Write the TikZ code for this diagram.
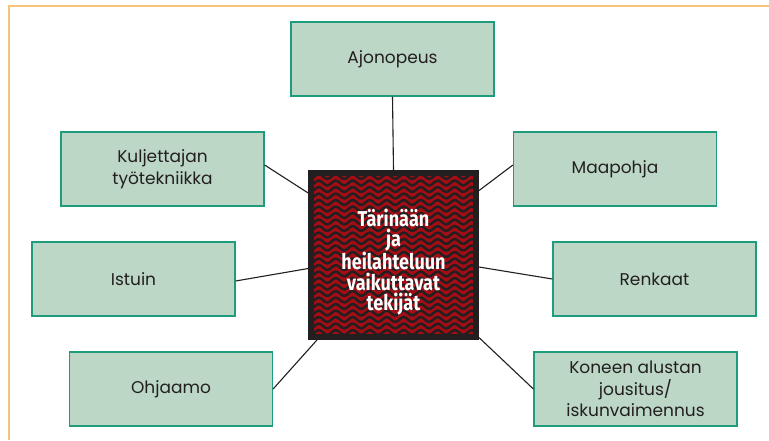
\documentclass[tikz,border=0pt]{standalone}
\usepackage{fontspec}
\setmainfont{Poppins}
\newfontfamily\ctrfont[FakeStretch=0.84]{Fira Sans}
\definecolor{boxfill}{HTML}{BCD7C6}
\definecolor{boxline}{HTML}{1E9C7C}
\definecolor{frameorange}{HTML}{F5C47C}
\definecolor{inkgray}{HTML}{231F20}
\definecolor{wavered}{HTML}{A50D15}
\begin{document}
\begin{tikzpicture}[x=1pt, y=-1pt,
  factor/.style={draw=boxline, fill=boxfill, line width=1.2pt,
    minimum width=203pt, minimum height=74pt, inner sep=0pt,
    text=inkgray, align=center, font=\fontsize{17}{21.5}\selectfont},
  link/.style={draw=inkgray, line width=1.1pt}]
\useasboundingbox (0,0) rectangle (769,440);
\fill[white] (0,0) rectangle (769,440);
\draw[frameorange, line width=1.5pt] (769,6) -- (9,6) -- (9,440);
\draw (392.5,59) node[factor](ajo) {Ajonopeus} ;
\draw (162.5,169) node[factor](kul) {Kuljettajan\\työtekniikka} ;
\draw (615,169) node[factor](maa) {Maapohja} ;
\draw (133.5,279) node[factor](ist) {Istuin} ;
\draw (654.5,279) node[factor](ren) {Renkaat} ;
\draw (171,389) node[factor](ohj) {Ohjaamo} ;
\draw (635.5,389) node[factor](kon) {Koneen alustan\\jousitus/\\iskunvaimennus} ;
\draw (393.5,255) node[draw=inkgray, fill=wavered, line width=6pt,
  minimum width=165pt, minimum height=164pt](ctr) {} ;
\begin{scope}
  \clip (314,176) rectangle (473,334);
  \foreach \i in {0,...,26}
    \draw[inkgray, line width=2.5pt]
      plot[domain=308:479, samples=90] (\x, {170 + 6.5*\i + 2.4*sin(\x/17*360)});
\end{scope}
\draw[inkgray, line width=6pt] (ctr.north west) ++(3,3) rectangle ([xshift=-3pt,yshift=3pt]ctr.south east);
\draw (393.5,262) node[text=white, align=center,
  font=\ctrfont\bfseries\fontsize{21.5}{20.5}\selectfont](lbl)
  {Tärinään\\ja\\heilahteluun\\vaikuttavat\\tekijät} ;
\draw[link] (ajo.south) -- (ctr.north) ;
\draw[link] ([yshift=4pt]kul.east) -- (ctr.144.5) ;
\draw[link] ([yshift=-2pt]ist.east) -- (ctr.189.3) ;
\draw[link] (ohj.east) -- (ctr.228.4) ;
\draw[link] ([yshift=4pt]maa.west) -- (ctr.37.7) ;
\draw[link] (ren.west) -- (ctr.352) ;
\draw[link] (kon.west) -- (ctr.316) ;
\end{tikzpicture}
\end{document}
